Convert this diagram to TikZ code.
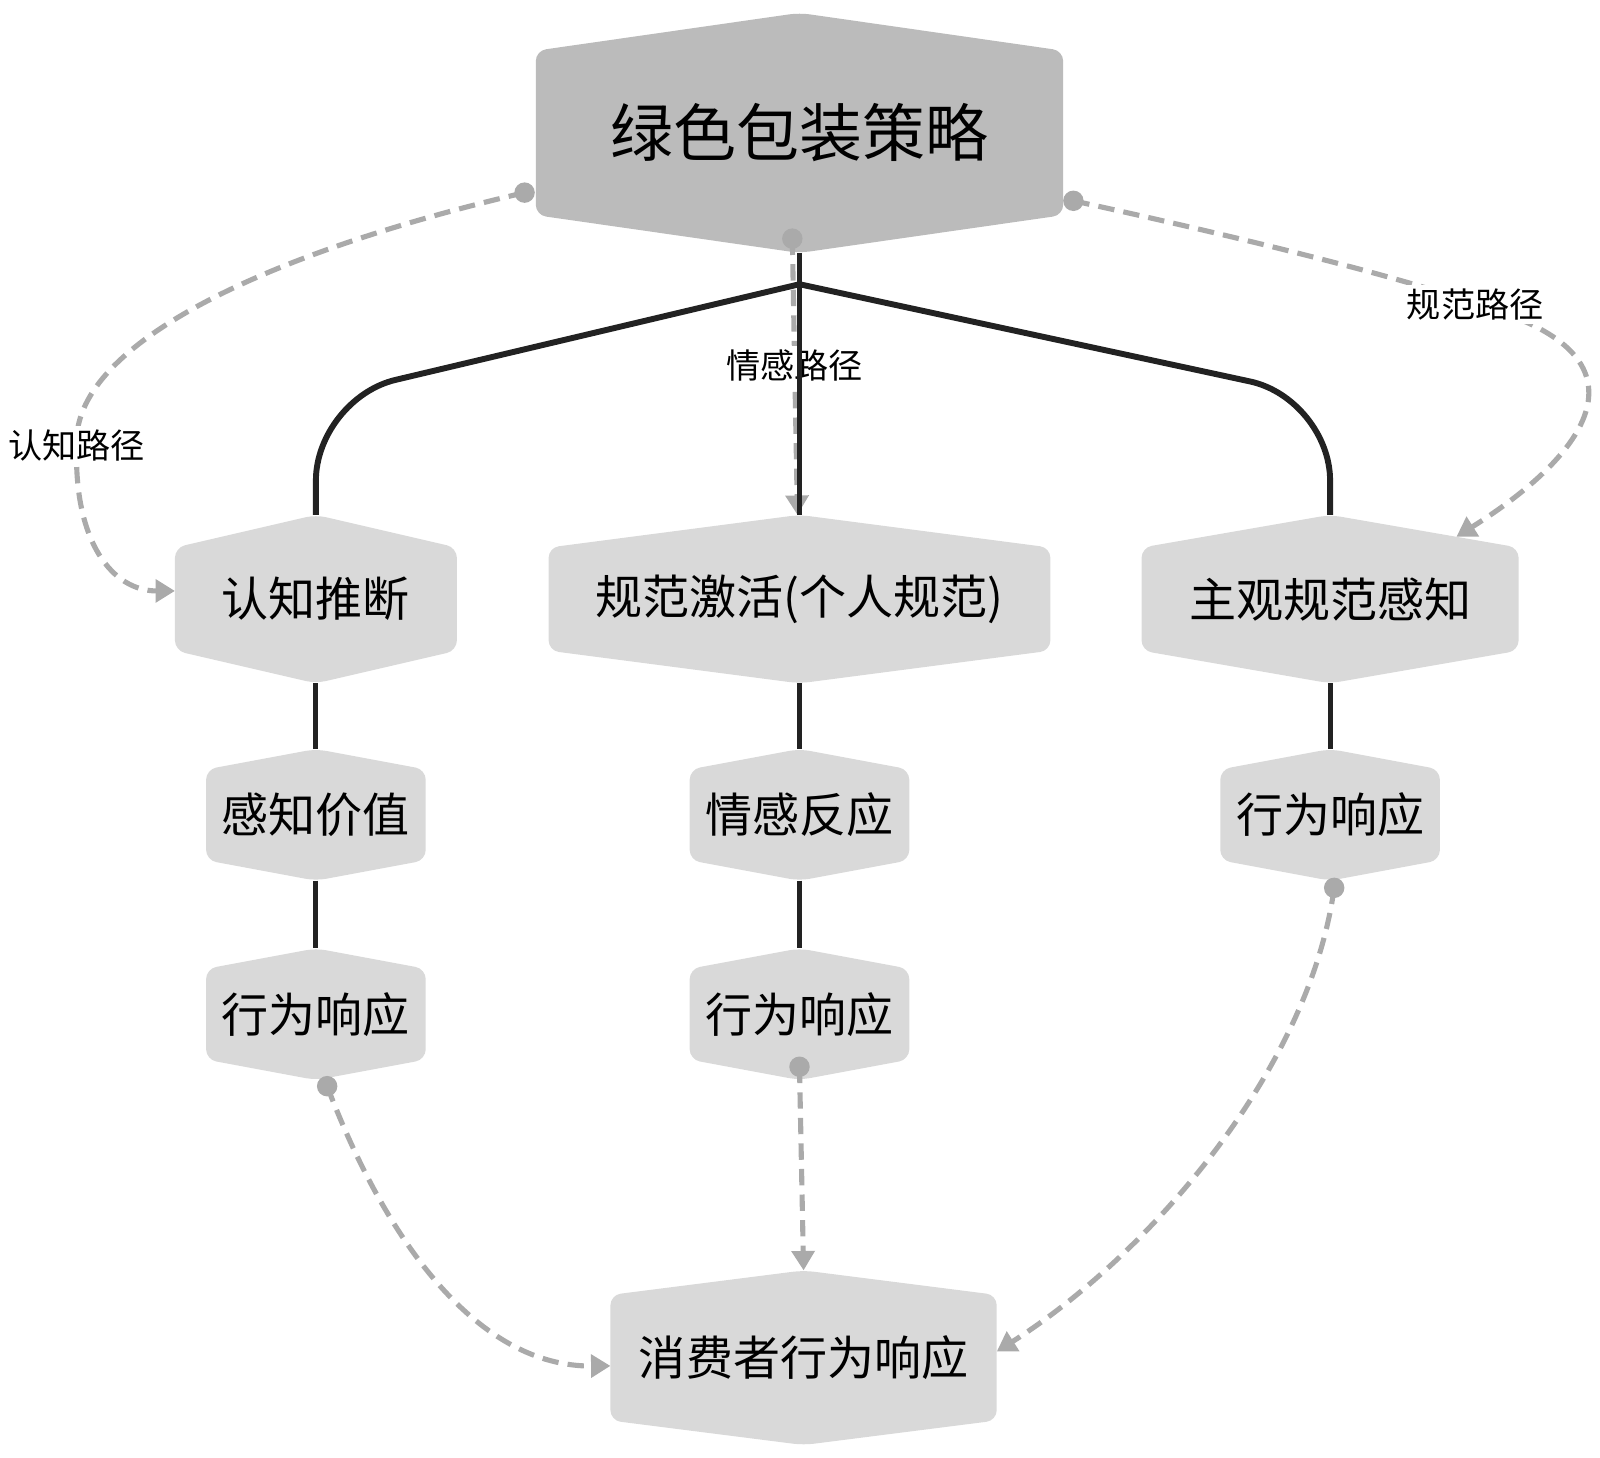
\documentclass[tikz,border=0pt]{standalone}
\usepackage{fontspec}
\setmainfont{Noto Sans CJK SC}
\usetikzlibrary{calc,arrows.meta,backgrounds}

\definecolor{topgray}{HTML}{BBBBBB}
\definecolor{boxgray}{HTML}{D9D9D9}
\definecolor{routegray}{HTML}{AAAAAA}
\definecolor{treeblack}{HTML}{222222}

\begin{document}
\begin{tikzpicture}[x=0.5pt,y=-0.5pt,
  hexbox/.style={inner sep=0pt, font=\fontsize{23}{28}\selectfont},
  smallbox/.style={hexbox, minimum width=107pt, minimum height=44pt},
  tree/.style={treeblack, line width=2.9pt},
  route/.style={routegray, line width=2.5pt, dash pattern=on 8pt off 4.5pt,
    -{Triangle[length=9.5pt,width=11pt]}},
  routelabel/.style={fill=white, text=black, inner sep=2pt,
    font=\fontsize{16.7}{20}\selectfont},
  routedot/.style={fill=routegray}]
\useasboundingbox (0,0) rectangle (1565,1426);

% boxes
\node[hexbox, minimum width=257.5pt, minimum height=80pt,
  font=\fontsize{30.8}{36}\selectfont] (strategy) at (782,130) {绿色包装策略};
\node[hexbox, minimum width=137.5pt, minimum height=50pt] (cog) at (309,586) {认知推断};
\node[hexbox, minimum width=245pt, minimum height=50pt] (norm) at (782,586) {规范激活(个人规范)};
\node[hexbox, minimum width=184pt, minimum height=50pt] (subj) at (1301,586) {主观规范感知};
\node[smallbox] (cogval) at (309,797) {感知价值};
\node[smallbox] (emo) at (782,797) {情感反应};
\node[smallbox] (respright) at (1301,797) {行为响应};
\node[smallbox] (respleft) at (309,992) {行为响应};
\node[smallbox] (respmid) at (782,992) {行为响应};
\node[hexbox, minimum width=188.5pt, minimum height=61pt] (consumer) at (786,1328) {消费者行为响应};

% hexagon fills
\begin{scope}[on background layer]
\foreach \n/\p/\c in {strategy/37/topgray, cog/32/boxgray, norm/32/boxgray,
    subj/32/boxgray, cogval/20/boxgray, emo/20/boxgray, respright/20/boxgray,
    respleft/20/boxgray, respmid/20/boxgray, consumer/24/boxgray} {
  \coordinate (\n-top) at ($(\n.north)+(0,-\p)$);
  \coordinate (\n-bot) at ($(\n.south)+(0,\p)$);
  \fill[\c, rounded corners=5pt] (\n.west) -- (\n.north west) -- (\n-top)
    -- (\n.north east) -- (\n.south east) -- (\n-bot) -- (\n.south west) -- cycle;
}
\end{scope}

% dashed routes
\coordinate (cogstart) at ([shift={(-11,-22)}]strategy.south west);
\coordinate (emostart) at ([shift={(-7,-14)}]strategy-bot);
\coordinate (normstart) at ([shift={(10,-14)}]strategy.south east);
\coordinate (leftstart) at ([shift={(11,6)}]respleft-bot);
\coordinate (midstart) at ([shift={(0,-13)}]respmid-bot);
\coordinate (rightstart) at ([shift={(4,7)}]respright-bot);

\draw[route] (cogstart) .. controls (250,250) and (70,340) .. (75,436)
  node[routelabel] {认知路径}
  .. controls (72,530) and (110,578) .. ([yshift=4pt]cog.west);
\draw[route] (emostart) -- node[routelabel, pos=0.46] {情感路径} ([xshift=-1pt]norm-top);
\draw[route] (normstart) .. controls (1250,240) and (1400,280) .. (1443,298)
  node[routelabel] {规范路径}
  .. controls (1620,345) and (1560,440) .. ($(subj.north east)!0.33!(subj-top)$);
\draw[route] (leftstart) .. controls (380,1220) and (470,1337) .. ([yshift=-4pt]consumer.west);
\draw[route] (midstart) -- (consumer-top);
\draw[route] (rightstart) .. controls (1280,1050) and (1120,1230) .. ([yshift=3pt]consumer.east);
\foreach \s in {cogstart,emostart,normstart,leftstart,midstart,rightstart}
  \fill[routedot] (\s) circle (10);

% tree lines
\coordinate (fork) at (782,278);
\draw[tree] (strategy-bot) -- (norm-top);
\draw[tree, rounded corners=40pt] (fork) -- (cog-top |- 0,390) -- (cog-top);
\draw[tree, rounded corners=40pt] (fork) -- (subj-top |- 0,390) -- (subj-top);
\draw[tree, line width=2.5pt] (cog-bot) -- (cogval-top);
\draw[tree, line width=2.5pt] (cogval-bot) -- (respleft-top);
\draw[tree, line width=2.5pt] (norm-bot) -- (emo-top);
\draw[tree, line width=2.5pt] (emo-bot) -- (respmid-top);
\draw[tree, line width=2.5pt] (subj-bot) -- (respright-top);
\end{tikzpicture}
\end{document}
